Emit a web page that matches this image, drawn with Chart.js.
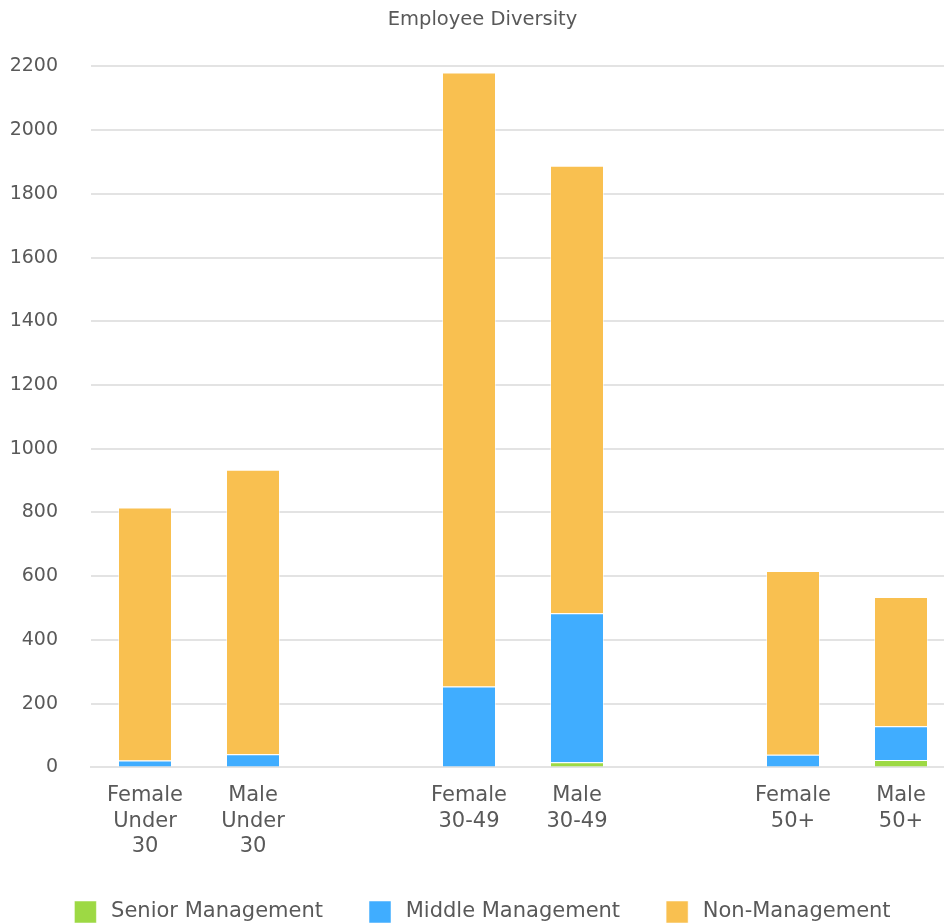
<!DOCTYPE html>
<html>
<head>
<meta charset="utf-8">
<script src="https://cdn.jsdelivr.net/npm/chart.js@4"></script>
<style>
  html, body { margin: 0; padding: 0; background: #fff; overflow: hidden; }
  #wrap { width: 966px; height: 934px; position: relative; }
</style>
</head>
<body>
<div id="wrap"><canvas id="chart"></canvas></div>
<script>
const labels = [
  ['Female', 'Under', '30'], ['Male', 'Under', '30'], '',
  ['Female', '30-49'], ['Male', '30-49'], '',
  ['Female', '50+'], ['Male', '50+']
];
const senior = [0, 0, null, 0, 16, null, 0, 23];
const middle = [22, 41, null, 254, 468, null, 40, 106];
const nonMgmt = [794, 893, null, 1927, 1404, null, 576, 406];

const grey = '#595959';
const font = "'DejaVu Sans', sans-serif";

new Chart(document.getElementById('chart'), {
  type: 'bar',
  data: {
    labels: labels,
    datasets: [
      { label: 'Senior Management', data: senior, backgroundColor: '#9DD944' },
      { label: 'Middle Management', data: middle, backgroundColor: '#40ADFF' },
      { label: 'Non-Management', data: nonMgmt, backgroundColor: '#F9C050' }
    ]
  },
  options: {
    responsive: true,
    maintainAspectRatio: false,
    animation: false,
    layout: { padding: { left: 10, right: 11, top: 6, bottom: 1 } },
    datasets: {
      bar: {
        categoryPercentage: 1,
        barPercentage: 0.5,
        borderWidth: 1,
        borderColor: 'rgba(255,255,255,0.5)'
      }
    },
    plugins: {
      title: {
        display: true,
        text: 'Employee Diversity',
        color: grey,
        font: { family: font, size: 19.5, weight: 'normal' },
        padding: { top: 2, bottom: 35 }
      },
      legend: {
        position: 'bottom',
        labels: {
          color: grey,
          font: { family: font, size: 21 },
          boxWidth: 22,
          boxHeight: 22,
          padding: 26,
          generateLabels: chart => {
            const items = Chart.defaults.plugins.legend.labels.generateLabels(chart);
            items.forEach((it, i) => {
              it.text = '\u2009' + it.text + (i < items.length - 1 ? '   ' : '');
            });
            return items;
          }
        }
      },
      tooltip: { enabled: false }
    },
    scales: {
      x: {
        stacked: true,
        grid: { display: false, drawTicks: false },
        border: { display: true, color: '#e3e3e3', width: 2 },
        ticks: {
          color: grey,
          font: { family: font, size: 21, lineHeight: 1.2 },
          padding: 16,
          maxRotation: 0,
          autoSkip: false
        }
      },
      y: {
        stacked: true,
        min: 0,
        max: 2200,
        afterFit: s => { s.width = 81; },
        grid: { color: '#e3e3e3', lineWidth: 2, drawTicks: false },
        border: { display: false },
        ticks: {
          stepSize: 200,
          color: grey,
          font: { family: font, size: 19 },
          padding: 33,
          callback: v => String(v)
        }
      }
    }
  }
});
</script>
</body>
</html>
